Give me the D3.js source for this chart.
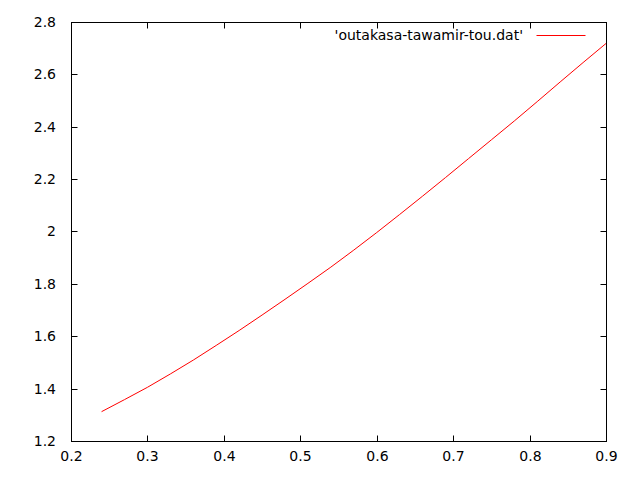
<!DOCTYPE html>
<html lang="en">
<head>
<meta charset="UTF-8">
<title>outakasa-tawamir-tou</title>
<script src="https://d3js.org/d3.v7.min.js"></script>
<style>
  body { margin: 0; background: #fff; }
  text { font-family: "DejaVu Sans", sans-serif; font-size: 14px; fill: #000; }
</style>
</head>
<body>
<svg width="640" height="480"></svg>
<script>
// data
const xs = [0.24, 0.27, 0.30, 0.33, 0.36, 0.39, 0.42, 0.45, 0.48, 0.51, 0.54, 0.57,
            0.60, 0.63, 0.66, 0.69, 0.72, 0.75, 0.78, 0.81, 0.84, 0.87, 0.90];
const ys = [1.312, 1.358, 1.405, 1.456, 1.509, 1.565, 1.622, 1.681, 1.741, 1.802, 1.864, 1.929,
            1.996, 2.065, 2.135, 2.206, 2.278, 2.350, 2.422, 2.496, 2.571, 2.645, 2.718];
const xTicks = [0.2, 0.3, 0.4, 0.5, 0.6, 0.7, 0.8, 0.9];
const yTicks = [1.2, 1.4, 1.6, 1.8, 2.0, 2.2, 2.4, 2.6, 2.8];
const seriesName = "'outakasa-tawamir-tou.dat'";

const plotL = 71, plotR = 606, plotT = 22, plotB = 441;
const tickLen = 6;

const x = d3.scaleLinear().domain([0.2, 0.9]).range([plotL, plotR]);
const y = d3.scaleLinear().domain([1.2, 2.8]).range([plotB, plotT]);

const svg = d3.select('svg');
const g = svg.append('g').attr('transform', 'translate(0.5,0.5)');

// frame
g.append('rect')
    .attr('x', plotL).attr('y', plotT)
    .attr('width', plotR - plotL).attr('height', plotB - plotT)
    .attr('fill', 'none').attr('stroke', '#000').attr('stroke-width', 1);

// ticks, mirrored on both sides, pointing inward
xTicks.forEach(t => {
    const px = Math.round(x(t));
    g.append('line').attr('x1', px).attr('x2', px).attr('y1', plotB).attr('y2', plotB - tickLen).attr('stroke', '#000');
    g.append('line').attr('x1', px).attr('x2', px).attr('y1', plotT).attr('y2', plotT + tickLen).attr('stroke', '#000');
    svg.append('text')
        .attr('x', px + 0.5).attr('y', 461)
        .attr('text-anchor', 'middle')
        .text(d3.format('.1f')(t));
});
yTicks.forEach(t => {
    const py = Math.round(y(t));
    g.append('line').attr('x1', plotL).attr('x2', plotL + tickLen).attr('y1', py).attr('y2', py).attr('stroke', '#000');
    g.append('line').attr('x1', plotR).attr('x2', plotR - tickLen).attr('y1', py).attr('y2', py).attr('stroke', '#000');
    svg.append('text')
        .attr('x', 56).attr('y', py + 5)
        .attr('text-anchor', 'end')
        .text(t === 2 ? '2' : d3.format('.1f')(t));
});

// the curve
const line = d3.line().x(d => x(d[0])).y(d => y(d[1]));
svg.append('path')
    .datum(d3.zip(xs, ys))
    .attr('d', line)
    .attr('fill', 'none')
    .attr('stroke', '#ff0000')
    .attr('stroke-width', 1);

// key
svg.append('text')
    .attr('x', 523).attr('y', 40)
    .attr('text-anchor', 'end')
    .text(seriesName);
g.append('line')
    .attr('x1', 536).attr('x2', 585).attr('y1', 35).attr('y2', 35)
    .attr('stroke', '#ff0000');
</script>
</body>
</html>
